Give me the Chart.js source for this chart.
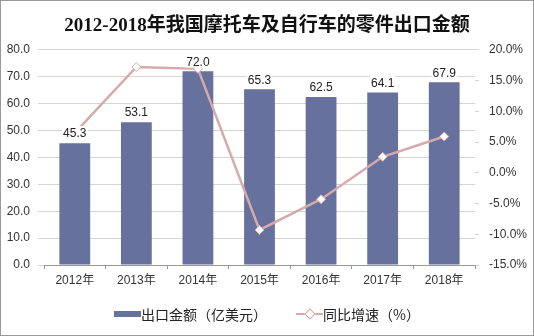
<!DOCTYPE html>
<html>
<head>
<meta charset="utf-8">
<script src="https://cdn.jsdelivr.net/npm/chart.js@4.4.0/dist/chart.umd.min.js"></script>
<style>
  body { margin: 0; background: #fff; }
  #wrap { position: relative; width: 534px; height: 336px; }
  #frame { position: absolute; left: 0; top: 0; width: 532px; height: 334px; border: 1px solid #9a9a9a; pointer-events: none; }
  #legend { position: absolute; left: 0; top: 302px; width: 534px; text-align: center; font: 14px "Noto Sans CJK SC", sans-serif; color: #222; }
  #legend span { display: inline-block; vertical-align: middle; }
  .sw-bar { width: 27px; height: 6px; background: #66719d; }
  .sw-line { width: 27px; height: 12px; position: relative; margin-left: 26px; }
  .sw-line:before { content: ""; position: absolute; left: 0; right: 0; top: 5px; height: 2px; background: #d6aaaa; }
  .sw-line:after { content: ""; position: absolute; left: 10px; top: 2px; width: 6px; height: 6px; background: #fff; border: 1px solid #d6aaaa; transform: rotate(45deg); }
</style>
</head>
<body>
<div id="wrap">
  <canvas id="chart" width="534" height="336"></canvas>
  <div id="legend">
    <span class="sw-bar"></span><span>出口金额（亿美元）</span>
    <span class="sw-line"></span><span>同比增速（%）</span>
  </div>
  <div id="frame"></div>
</div>
<script>
const years = ['2012年', '2013年', '2014年', '2015年', '2016年', '2017年', '2018年'];
const exportValue = [45.3, 53.1, 72.0, 65.3, 62.5, 64.1, 67.9];
const growthRate = [6.5, 17.2, 16.9, -9.3, -4.3, 2.6, 5.9];

// value labels above the bars, on a white box like the original
const barLabels = {
    id: 'barLabels',
    afterDatasetsDraw(chart) {
        const ctx = chart.ctx;
        const meta = chart.getDatasetMeta(1);
        ctx.save();
        ctx.font = '12px Arial, "Liberation Sans", sans-serif';
        ctx.textAlign = 'center';
        ctx.textBaseline = 'bottom';
        meta.data.forEach((bar, i) => {
            const txt = exportValue[i].toFixed(1);
            const w = ctx.measureText(txt).width;
            ctx.fillStyle = '#fff';
            ctx.fillRect(bar.x - w / 2 - 1, bar.y - 17, w + 2, 13);
            ctx.fillStyle = '#222';
            ctx.fillText(txt, bar.x, bar.y - 3);
        });
        ctx.restore();
    }
};

new Chart(document.getElementById('chart'), {
    data: {
        labels: years,
        datasets: [
            {
                type: 'line',
                label: '同比增速（%）',
                data: growthRate,
                yAxisID: 'y1',
                order: 0,
                borderColor: '#d6aaaa',
                borderWidth: 2.5,
                pointStyle: 'rectRot',
                pointRadius: 4.5,
                pointBackgroundColor: '#fff',
                pointBorderColor: '#d6aaaa',
                pointBorderWidth: 1,
                tension: 0
            },
            {
                type: 'bar',
                label: '出口金额（亿美元）',
                data: exportValue,
                yAxisID: 'y',
                order: 1,
                backgroundColor: '#66719d',
                barPercentage: 0.5,
                categoryPercentage: 1
            }
        ]
    },
    options: {
        responsive: false,
        animation: false,
        layout: { padding: { left: 0, right: 0, top: 0, bottom: 0 } },
        plugins: {
            legend: { display: false },
            tooltip: { enabled: false },
            title: {
                display: true,
                text: '2012-2018年我国摩托车及自行车的零件出口金额',
                font: { family: '"Liberation Serif", "Noto Sans CJK SC", serif', size: 19, weight: 'bold' },
                color: '#111',
                padding: { top: 15, bottom: 12 }
            }
        },
        scales: {
            x: {
                grid: { drawOnChartArea: false, color: '#999', tickLength: 4, offset: true },
                border: { color: '#999' },
                ticks: { color: '#333', font: { family: 'Arial, "Noto Sans CJK SC", sans-serif', size: 12 }, padding: 4 },
                afterFit(scale) { scale.height = 71; }
            },
            y: {
                position: 'left',
                min: 0,
                max: 80,
                ticks: {
                    stepSize: 10,
                    color: '#333',
                    padding: 8,
                    font: { family: 'Arial, sans-serif', size: 12 },
                    callback: v => v.toFixed(1)
                },
                grid: { color: '#d4d4d4', tickLength: 6 },
                border: { display: false },
                afterFit(scale) { scale.width = 44; }
            },
            y1: {
                position: 'right',
                min: -15,
                max: 20,
                ticks: {
                    stepSize: 5,
                    color: '#333',
                    padding: 10,
                    font: { family: 'Arial, sans-serif', size: 12 },
                    callback: v => v.toFixed(1) + '%'
                },
                grid: { drawOnChartArea: false, color: '#d4d4d4', tickLength: 4 },
                border: { display: false },
                afterFit(scale) { scale.width = 59; }
            }
        }
    },
    plugins: [barLabels]
});
</script>
</body>
</html>
